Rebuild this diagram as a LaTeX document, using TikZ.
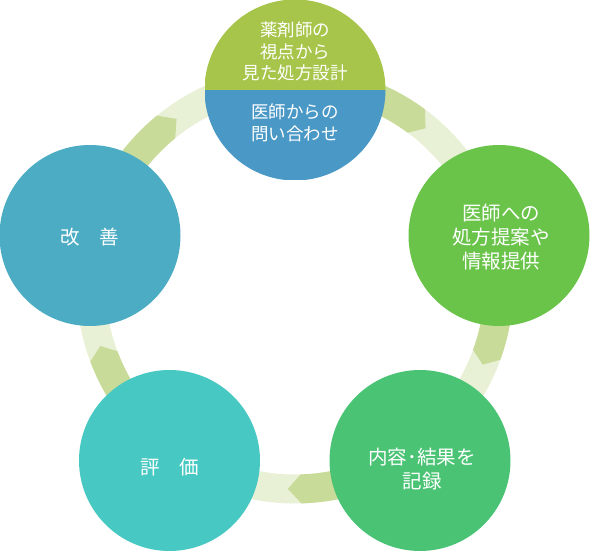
\documentclass[tikz,border=0pt]{standalone}
\usepackage{fontspec}
\newfontfamily\jp{Noto Sans CJK JP}
\definecolor{topgreen}{HTML}{A7C54A}
\definecolor{topblue}{HTML}{4A98C6}
\definecolor{leftc}{HTML}{4BACC4}
\definecolor{rightc}{HTML}{6AC44A}
\definecolor{brc}{HTML}{4AC474}
\definecolor{blc}{HTML}{48C8C2}
\definecolor{ringlight}{HTML}{E8F0D5}
\definecolor{ringdark}{HTML}{C8DB98}
\newcommand\ringarrow[3]{\fill[ringdark] ([shift={(c)}]#1:218.5pt) arc[start angle=#1, end angle=#2, radius=218.5pt] -- ([shift={(c)}]#3:204pt) -- ([shift={(c)}]#2:189.5pt) arc[start angle=#2, end angle=#1, radius=189.5pt] -- cycle;}
\begin{document}
\begin{tikzpicture}[x=1pt,y=1pt,
  stage/.style={circle, minimum size=181pt, inner sep=0pt, draw=none},
  lbl/.style={font=\jp\fontsize{19.5}{24}\selectfont, text=white, align=center, inner sep=0pt},
  toplbl/.style={font=\jp\fontsize{17.5}{21.5}\selectfont, text=white, align=center, inner sep=0pt}]
\useasboundingbox (0,0) rectangle (590,551);
\coordinate (c) at (295,266);
\fill[ringlight, even odd rule] (c) circle[radius=218.5pt] (c) circle[radius=189.5pt];
\ringarrow{90}{53.5}{50.2}
\ringarrow{8.5}{-20}{-23}
\ringarrow{-54.5}{-88.3}{-92}
\ringarrow{-125.6}{-159.5}{-162.6}
\ringarrow{171.5}{129.2}{125.5}
\node[stage, fill=leftc] (kaizen) at (90,315.5) {};
\node[stage, fill=rightc] (teian) at (499,315.5) {};
\node[stage, fill=brc] (kiroku) at (420,90.5) {};
\node[stage, fill=blc] (hyoka) at (169.5,90.5) {};
\node[stage, path picture={
  \fill[topblue] (path picture bounding box.south west) rectangle (path picture bounding box.east);
  \fill[topgreen] (path picture bounding box.west) rectangle (path picture bounding box.north east);
}] (top) at (295,461) {};
\node[toplbl] (t1) at (295,499.5) {薬剤師の\\視点から\\見た処方設計};
\node[toplbl] (t2) at (295,428) {医師からの\\問い合わせ};
\node[lbl] (t3) at (501,313.7) {医師への\\処方提案や\\情報提供};
\node[lbl] (t4) at (90,313.7) {改　善};
\node[lbl] (t5) at (169.7,84.3) {評　価};
\node[lbl] (t6) at (422,81.5) {内容･結果を\\記録};
\end{tikzpicture}
\end{document}
